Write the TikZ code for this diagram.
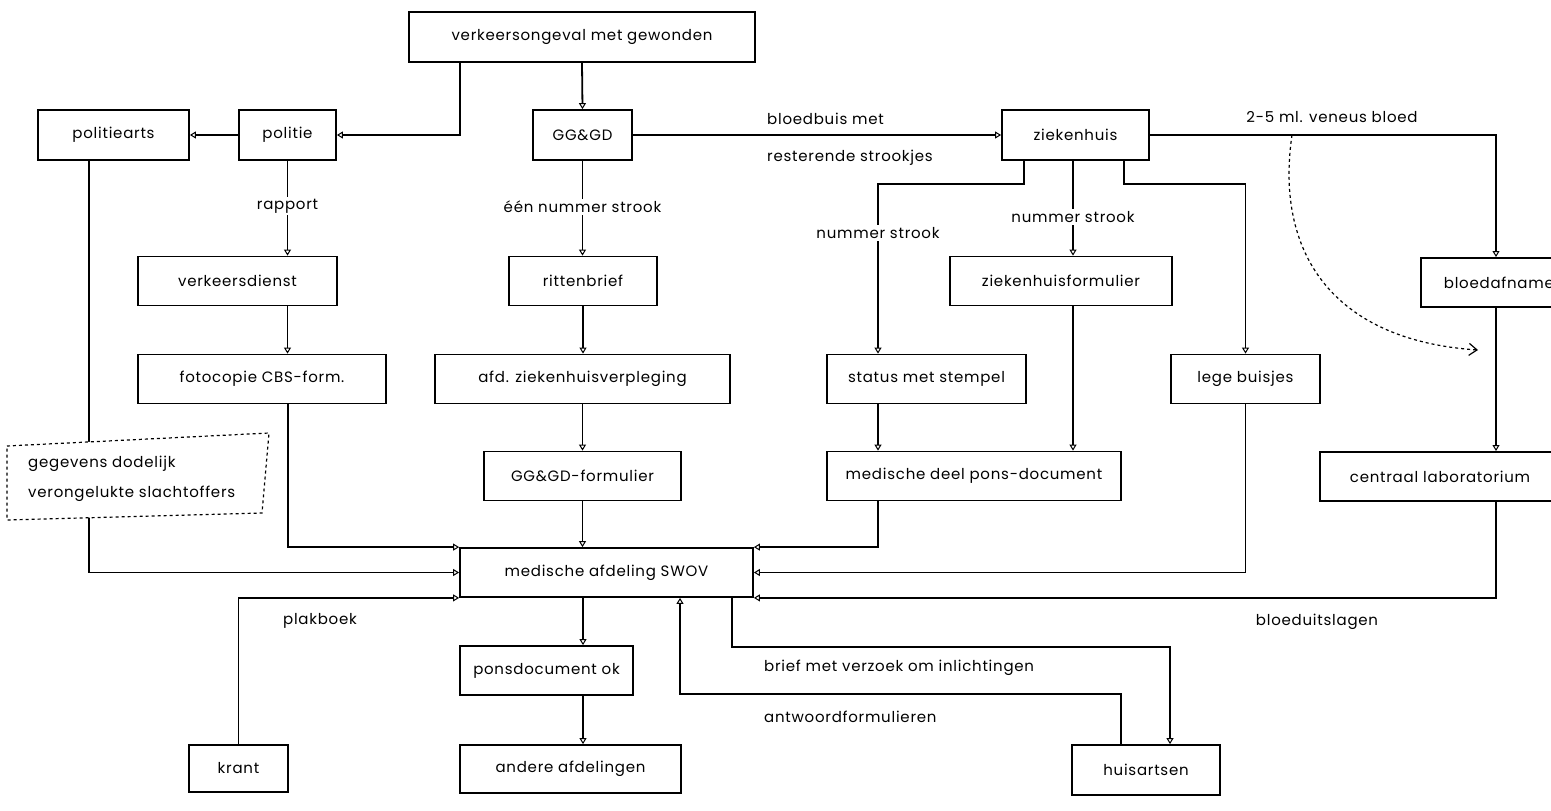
\documentclass[tikz,border=0pt]{standalone}
\usepackage{fontspec}
\setmainfont[LetterSpace=5]{Poppins}
\usetikzlibrary{arrows.meta}
\newcommand\dgfont{\fontsize{15}{18}\selectfont}
\begin{document}
\begin{tikzpicture}[x=1pt,y=-1pt,
  box/.style={draw, line width=1.8pt, inner sep=0pt, font=\dgfont},
  lbl/.style={inner sep=2pt, font=\dgfont},
  con/.style={line width=1.8pt},
  arr/.style={line width=1.8pt, -{Triangle[open,length=6pt,width=7pt,line width=1pt]}}]
\useasboundingbox (0,0) rectangle (1551,811);
\fill[white] (0,0) rectangle (1551,811);

% boxes
\node[box, minimum width=346pt, minimum height=50pt] (vo) at (582,37) {verkeersongeval met gewonden};
\node[box, minimum width=151pt, minimum height=50pt] (pa) at (113.5,135) {politiearts};
\node[box, minimum width=97pt, minimum height=50pt] (po) at (287.5,135) {politie};
\node[box, minimum width=99pt, minimum height=50pt] (gg) at (582.5,135) {GG\&GD};
\node[box, minimum width=147pt, minimum height=50pt] (zh) at (1075.5,135) {ziekenhuis};
\node[box, minimum width=199pt, minimum height=49pt] (vd) at (237.5,281) {verkeersdienst};
\node[box, minimum width=148pt, minimum height=49pt] (rb) at (583,281) {rittenbrief};
\node[box, minimum width=222pt, minimum height=49pt] (zf) at (1061,281) {ziekenhuisformulier};
\node[box, minimum height=49pt, text width=200pt, align=left, inner xsep=23pt, anchor=north west] (ba) at (1420,257) {bloedafname};
\node[box, minimum width=248pt, minimum height=49pt] (fc) at (262,379) {fotocopie CBS-form.};
\node[box, minimum width=295pt, minimum height=49pt] (afd) at (582.5,379) {afd. ziekenhuisverpleging};
\node[box, minimum width=199pt, minimum height=49pt] (st) at (926.5,379) {status met stempel};
\node[box, minimum width=149pt, minimum height=49pt] (lb) at (1245.5,379) {lege buisjes};
\node[box, minimum width=197pt, minimum height=49pt] (gf) at (582.5,476) {GG\&GD-formulier};
\node[box, minimum width=294pt, minimum height=49pt] (md) at (974,476) {medische deel pons-document};
\node[box, minimum height=49pt, text width=260pt, align=left, inner xsep=30pt, anchor=north west] (cl) at (1319,451) {centraal laboratorium};
\node[box, minimum width=293pt, minimum height=49pt] (sw) at (606.5,572.5) {medische afdeling SWOV};
\node[box, minimum width=173pt, minimum height=49pt] (pd) at (546.5,670.5) {ponsdocument ok};
\node[box, minimum width=221pt, minimum height=48pt] (aa) at (570.5,769) {andere afdelingen};
\node[box, minimum width=99pt, minimum height=47pt] (kr) at (238.5,768.5) {krant};
\node[box, minimum width=148pt, minimum height=50pt] (ha) at (1146,770) {huisartsen};

% connectors
\draw[arr] ([xshift=-122pt]vo.south) |- (po.east);
\draw[arr] (po.west) -- (pa.east);
\draw[arr] (vo.south) -- (gg.south |- gg.north);
\draw[arr] (gg.east) -- (zh.west);
\draw[arr] (po.south) -- (po.south |- vd.north);
\draw[arr] (gg.south) -- (gg.south |- rb.north);
\draw[arr] ([xshift=-51.5pt]zh.south) -- ++(0,23) -| ([xshift=-48.5pt]st.north);
\draw[arr] ([xshift=-2.5pt]zh.south) -- ([xshift=-2.5pt]zh.south |- zf.north);
\draw[arr] ([xshift=48.5pt]zh.south) -- ++(0,23) -| (lb.north);
\draw[arr] (zh.east) -| ([xshift=76pt]ba.north west);
\draw[arr] ([xshift=76pt]ba.south west) -- ([xshift=177pt]cl.north west);
\draw[arr] ([xshift=50pt]vd.south) -- ([xshift=50pt]vd.south |- fc.north);
\draw[arr] (rb.south) -- (rb.south |- afd.north);
\draw[arr] (afd.south) -- (afd.south |- gf.north);
\draw[arr] (gf.south) -- (gf.south |- sw.north);
\draw[arr] ([xshift=26pt]fc.south) |- (sw.north west);
\draw[arr] ([xshift=-24.5pt]pa.south) |- (sw.west);
\draw[arr] (kr.north) |- (sw.south west);
\draw[arr] ([xshift=-48.5pt]st.south) -- ([xshift=-48.5pt]st.south |- md.north);
\draw[arr] ([xshift=12pt]zf.south) -- ([xshift=12pt]zf.south |- md.north);
\draw[arr] ([xshift=-96pt]md.south) |- (sw.north east);
\draw[arr] (lb.south) |- (sw.east);
\draw[arr] ([xshift=177pt]cl.south west) |- (sw.south east);
\draw[arr] ([xshift=-23.5pt]sw.south) -- ([xshift=-23.5pt]sw.south |- pd.north);
\draw[arr] ([xshift=36.5pt]pd.south) -- ([xshift=36.5pt]pd.south |- aa.north);
\draw[arr] ([xshift=125.5pt]sw.south) -- ++(0,49) -| ([xshift=24pt]ha.north);
\draw[arr] ([xshift=-25pt]ha.north) -- ++(0,-50) -| ([xshift=73.5pt]sw.south);

% curved dashed arrow
\coordinate (cs) at (1292,135);
\coordinate (ce) at (1478,350);
\draw[dashed, line width=1.2pt, -{Straight Barb[length=8pt,width=12pt]}] (cs) .. controls (1275,250) and (1330,340) .. (ce);

% labels
\node[lbl, fill=white] (l1) at (287.5,206) {rapport};
\node[lbl, fill=white] (l2) at (582.5,207) {één nummer strook};
\node[lbl, anchor=west] (l3) at (765,119) {bloedbuis met};
\node[lbl, anchor=west] (l4) at (765,158) {resterende strookjes};
\node[lbl, fill=white] (l5) at (878,233) {nummer strook};
\node[lbl, fill=white] (l6) at (1073,217) {nummer strook};
\node[lbl] (l7) at (1332,117) {2-5 ml. veneus bloed};
\node[lbl] (l8) at (320,621) {plakboek};
\node[lbl] (l9) at (1317,622) {bloeduitslagen};
\node[lbl, anchor=west] (l10) at (762,668) {brief met verzoek om inlichtingen};
\node[lbl, anchor=west] (l11) at (762,717) {antwoordformulieren};

% dashed note box
\draw[dashed, line width=1.2pt, fill=white] (7,446) -- (269,433) -- (262,513) -- (7,520) -- cycle;
\node[lbl, anchor=west, align=left] (gd) at (26,479) {gegevens dodelijk\\[12pt]verongelukte slachtoffers};
\end{tikzpicture}
\end{document}
